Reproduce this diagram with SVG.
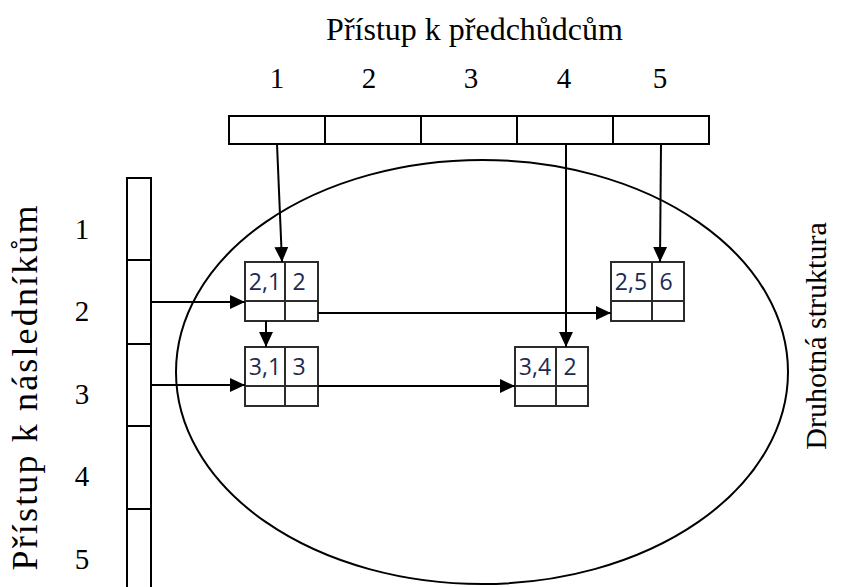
<svg xmlns="http://www.w3.org/2000/svg" width="856" height="587" viewBox="0 0 856 587">
<style>
.lbl{font-family:"Liberation Serif","Times New Roman",serif;fill:#000}
.num{font-family:"Liberation Serif","Times New Roman",serif;font-size:29px;fill:#000;text-anchor:middle}
.cell{fill:#fff;stroke:#000;stroke-width:2}
.nd{fill:#fff;stroke:#2b2b2b;stroke-width:2}
.nt{font-family:"Open Sans","Liberation Sans",sans-serif;font-size:23px;fill:#1c2a50;text-anchor:middle}
.con{stroke:#000;stroke-width:2;fill:none}
</style>
<defs>
<marker id="ah" viewBox="0 0 14 14" refX="14" refY="7" markerWidth="15" markerHeight="15" markerUnits="userSpaceOnUse" orient="auto">
<path d="M0,0.5 L14,7 L0,13.5 Z" fill="#000"/>
</marker>
</defs>
<rect width="856" height="587" fill="#fff"/>

<g id="title">
<text class="lbl" x="474.5" y="40" font-size="32" text-anchor="middle">Přístup k předchůdcům</text>
<text class="num" x="277" y="88">1</text>
<text class="num" x="369" y="88">2</text>
<text class="num" x="471" y="88">3</text>
<text class="num" x="564" y="88">4</text>
<text class="num" x="660" y="88">5</text>
</g>

<g id="pred-array">
<rect class="cell" x="229" y="116" width="96" height="28"/>
<rect class="cell" x="325" y="116" width="96" height="28"/>
<rect class="cell" x="421" y="116" width="96" height="28"/>
<rect class="cell" x="517" y="116" width="96" height="28"/>
<rect class="cell" x="613" y="116" width="96" height="28"/>
</g>

<g id="succ-array">
<rect class="cell" x="127" y="178" width="24" height="82"/>
<rect class="cell" x="127" y="260" width="24" height="84"/>
<rect class="cell" x="127" y="344" width="24" height="82"/>
<rect class="cell" x="127" y="426" width="24" height="83"/>
<rect class="cell" x="127" y="509" width="24" height="90"/>
<text class="num" x="82" y="239">1</text>
<text class="num" x="82" y="321">2</text>
<text class="num" x="82" y="404">3</text>
<text class="num" x="82" y="486">4</text>
<text class="num" x="82" y="569">5</text>
</g>

<g id="side-labels">
<text class="lbl" font-size="36" transform="translate(37,388) rotate(-90)" text-anchor="middle" textLength="365" lengthAdjust="spacing">Přístup k následníkům</text>
<text class="lbl" font-size="30" transform="translate(826,336) rotate(-90)" text-anchor="middle">Druhotná struktura</text>
</g>

<g id="secondary">
<ellipse cx="482" cy="372" rx="306" ry="212" fill="none" stroke="#000" stroke-width="2"/>
</g>

<g id="node-2-1">
<rect class="nd" x="245" y="262" width="73" height="59"/>
<line class="nd" x1="245" y1="301" x2="318" y2="301"/>
<line class="nd" x1="285" y1="262" x2="285" y2="321"/>
<text class="nt" x="265" y="290">2,1</text>
<text class="nt" x="299" y="290">2</text>
</g>
<g id="node-3-1">
<rect class="nd" x="245" y="347" width="73" height="59"/>
<line class="nd" x1="245" y1="386" x2="318" y2="386"/>
<line class="nd" x1="285" y1="347" x2="285" y2="406"/>
<text class="nt" x="265" y="375">3,1</text>
<text class="nt" x="299" y="375">3</text>
</g>
<g id="node-2-5">
<rect class="nd" x="611" y="262" width="73" height="59"/>
<line class="nd" x1="611" y1="301" x2="684" y2="301"/>
<line class="nd" x1="652" y1="262" x2="652" y2="321"/>
<text class="nt" x="631" y="290">2,5</text>
<text class="nt" x="666" y="290">6</text>
</g>
<g id="node-3-4">
<rect class="nd" x="515" y="347" width="73" height="59"/>
<line class="nd" x1="515" y1="386" x2="588" y2="386"/>
<line class="nd" x1="556" y1="347" x2="556" y2="406"/>
<text class="nt" x="535" y="375">3,4</text>
<text class="nt" x="570" y="375">2</text>
</g>

<g id="connectors">
<line class="con" x1="277" y1="144" x2="282" y2="262" marker-end="url(#ah)"/>
<line class="con" x1="566" y1="144" x2="566" y2="347" marker-end="url(#ah)"/>
<line class="con" x1="661" y1="144" x2="660" y2="262" marker-end="url(#ah)"/>
<line class="con" x1="151" y1="302" x2="245" y2="302" marker-end="url(#ah)"/>
<line class="con" x1="151" y1="385" x2="245" y2="385" marker-end="url(#ah)"/>
<line class="con" x1="266" y1="321" x2="266" y2="347" marker-end="url(#ah)"/>
<line class="con" x1="318" y1="313" x2="611" y2="313" marker-end="url(#ah)"/>
<line class="con" x1="318" y1="386" x2="515" y2="386" marker-end="url(#ah)"/>
</g>
</svg>
